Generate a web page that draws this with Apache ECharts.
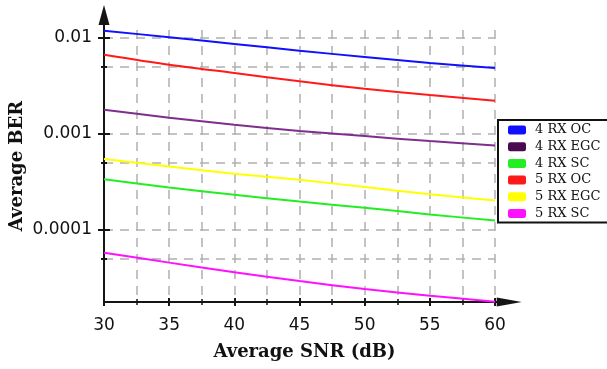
<!DOCTYPE html>
<html>
<head>
<meta charset="utf-8">
<script src="https://cdn.jsdelivr.net/npm/echarts@6/dist/echarts.min.js"></script>
<style>
  html, body { margin: 0; padding: 0; background: #fff; }
  #chart { width: 607px; height: 369px; }
</style>
</head>
<body>
<div id="chart"></div>
<script>
// x: average SNR in dB, y: average BER (log scale)
const snr = [30, 35, 40, 45, 50, 55, 60];

const rx4OC  = [0.0118, 0.0101, 0.0086, 0.0073, 0.0063, 0.00545, 0.00483];
const rx4EGC = [0.00178, 0.00147, 0.00124, 0.00107, 0.000946, 0.000839, 0.000755];
const rx4SC  = [0.000337, 0.000276, 0.000232, 0.000197, 0.000170, 0.000145, 0.000125];
const rx5OC  = [0.00665, 0.00523, 0.00429, 0.00351, 0.00294, 0.00253, 0.00221];
const rx5EGC = [0.000545, 0.000456, 0.000383, 0.000332, 0.000279, 0.000235, 0.000202];
const rx5SC  = [0.000058, 0.0000457, 0.0000363, 0.0000294, 0.0000243, 0.0000207, 0.0000179];

const decadeTicks = [0.01, 0.001, 0.0001];
const halfTicks = [0.005, 0.0005, 0.00005];

const YMIN = 0.0000178;
const YMAX = 0.012;

const seriesDefs = [
  { name: '4 RX OC', data: rx4OC, color: '#1010ff' },
  { name: '4 RX EGC', data: rx4EGC, color: '#7e2f8e', icon: '#4a0a52' },
  { name: '4 RX SC', data: rx4SC, color: '#22ee22' },
  { name: '5 RX OC', data: rx5OC, color: '#ff1a1a' },
  { name: '5 RX EGC', data: rx5EGC, color: '#ffff00' },
  { name: '5 RX SC', data: rx5SC, color: '#ff10ff' },
];

const gridLine = { show: true, lineStyle: { color: '#b0b0b0', width: 1.5, type: [9, 7] } };
const axisColor = '#151515';

// y axes stacked on the same left edge: ticks out / in, decades / halves
function yAxisFor(values, len, inside, withLabels, withGrid) {
  return {
    type: 'log',
    position: 'left',
    min: YMIN,
    max: YMAX,
    axisLine: withLabels ? {
      show: true,
      lineStyle: { color: axisColor, width: 2 },
      symbol: ['none', 'path://M5.5 0 L11 20 L6.5 20 L6.5 28 L4.5 28 L4.5 20 L0 20 Z'],
      symbolSize: [11, 28],
      symbolOffset: [0, 11],
    } : { show: false },
    axisTick: { show: true, customValues: values, inside: inside, length: len,
      lineStyle: { color: axisColor, width: 2 } },
    axisLabel: withLabels ? {
      show: true,
      customValues: decadeTicks,
      margin: 12,
      color: '#111',
      fontFamily: 'DejaVu Sans',
      fontSize: 17,
      formatter: (v) => Number(v.toPrecision(3)).toString(),
    } : { show: false },
    splitLine: withGrid ? gridLine : { show: false },
    name: withLabels ? 'Average BER' : '',
    nameLocation: 'middle',
    nameGap: 78,
    nameMoveOverlap: false,
    nameTextStyle: { fontFamily: 'DejaVu Serif', fontWeight: 'bold', fontSize: 18, color: '#111' },
  };
}

function xAxisFor(inside, main) {
  return {
    type: 'value',
    position: 'bottom',
    min: 30,
    max: 60,
    interval: 5,
    axisLine: main ? {
      show: true,
      lineStyle: { color: axisColor, width: 2 },
      symbol: ['none', 'path://M4.5 0 L9 25 L5.5 25 L5.5 28 L3.5 28 L3.5 25 L0 25 Z'],
      symbolSize: [9, 28],
      symbolOffset: [0, 12.7],
    } : { show: false },
    axisTick: { show: true, inside: inside, length: 4, lineStyle: { color: axisColor, width: 2 } },
    minorTick: { show: true, splitNumber: 2, length: 3, lineStyle: { color: axisColor, width: 1.5 } },
    axisLabel: main ? {
      show: true, margin: 15, color: '#111', fontFamily: 'DejaVu Sans', fontSize: 17,
    } : { show: false },
    splitLine: main ? gridLine : { show: false },
    minorSplitLine: main ? gridLine : { show: false },
    name: main ? 'Average SNR (dB)' : '',
    nameLocation: 'middle',
    nameGap: 41,
    nameMoveOverlap: false,
    nameTextStyle: { fontFamily: 'DejaVu Serif', fontWeight: 'bold', fontSize: 18, color: '#111',
      padding: [0, 0, 0, 10] },
  };
}

const chart = echarts.init(document.getElementById('chart'), null, { renderer: 'canvas' });

chart.setOption({
  animation: false,
  backgroundColor: '#fff',
  grid: { left: 104, right: 112, top: 30, bottom: 67, containLabel: false, outerBoundsMode: 'none' },
  xAxis: [xAxisFor(false, true), xAxisFor(true, false)],
  yAxis: [
    yAxisFor(decadeTicks, 6, false, true, true),
    yAxisFor(halfTicks, 3, false, false, true),
    yAxisFor(decadeTicks, 6, true, false, false),
    yAxisFor(halfTicks, 3, true, false, false),
  ],
  legend: {
    orient: 'vertical',
    left: 498,
    top: 120,
    padding: [3, 14, 2, 10],
    borderColor: '#111',
    borderWidth: 2,
    backgroundColor: '#fff',
    icon: 'roundRect',
    itemWidth: 18,
    itemHeight: 9,
    itemGap: 2.7,
    textStyle: { fontFamily: 'DejaVu Serif', fontSize: 13, color: '#111', lineHeight: 14,
      padding: [0, 0, 0, 4] },
    data: seriesDefs.map((s) => ({ name: s.name, itemStyle: { color: s.icon || s.color } })),
  },
  series: seriesDefs.map((s) => ({
    name: s.name,
    type: 'line',
    xAxisIndex: 0,
    yAxisIndex: 0,
    data: snr.map((x, i) => [x, s.data[i]]),
    showSymbol: false,
    smooth: 0.3,
    itemStyle: { color: s.color },
    lineStyle: { color: s.color, width: 2 },
  })),
});
</script>
</body>
</html>
